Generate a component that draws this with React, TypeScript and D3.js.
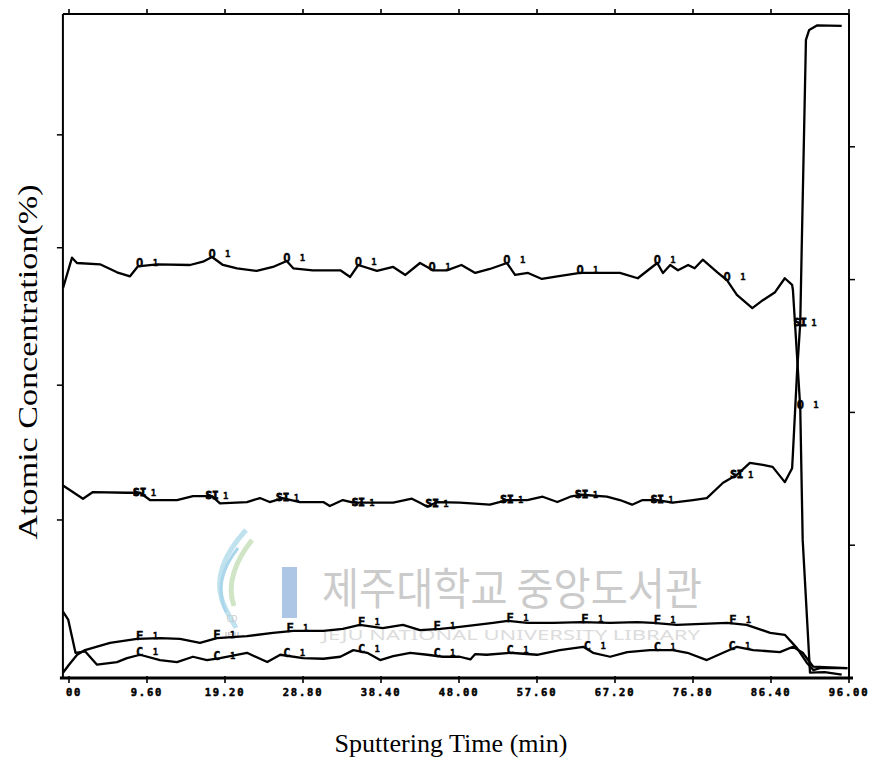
import React from "react";
import * as d3 from "d3";

// ---------- data ----------
type Pt = { t: number; v: number };

const xTickValues = [0, 9.6, 19.2, 28.8, 38.4, 48, 57.6, 67.2, 76.8, 86.4, 96];
const xTickLabels = ["00", "9.60", "19.20", "28.80", "38.40", "48.00", "57.60", "67.20", "76.80", "86.40", "96.00"];
const rightTickValues = [20, 40, 60, 80];
const leftTickValues = [23.8, 44.1, 64.8, 81.8];

const oxygenData: Pt[] = [
  { t: -0.74, v: 58.7 }, { t: 0.37, v: 63.3 }, { t: 0.98, v: 62.5 }, { t: 3.82, v: 62.3 },
  { t: 5.91, v: 61.1 }, { t: 7.51, v: 60.5 }, { t: 8.49, v: 62.0 }, { t: 10.83, v: 62.3 },
  { t: 14.89, v: 62.2 }, { t: 16.49, v: 62.7 }, { t: 17.6, v: 63.4 }, { t: 18.95, v: 62.2 },
  { t: 20.68, v: 61.7 }, { t: 23.1, v: 61.3 }, { t: 25.1, v: 61.9 }, { t: 26.8, v: 62.8 },
  { t: 27.6, v: 61.7 }, { t: 30.0, v: 61.4 }, { t: 33.4, v: 61.4 }, { t: 34.6, v: 60.4 },
  { t: 35.6, v: 62.2 }, { t: 37.9, v: 61.3 }, { t: 39.9, v: 61.9 }, { t: 41.4, v: 60.7 },
  { t: 43.2, v: 62.5 }, { t: 44.8, v: 61.4 }, { t: 46.5, v: 61.4 }, { t: 48.3, v: 62.2 },
  { t: 50.0, v: 61.0 }, { t: 51.8, v: 61.6 }, { t: 53.9, v: 62.5 }, { t: 54.9, v: 60.7 },
  { t: 56.5, v: 61.0 }, { t: 58.2, v: 60.1 }, { t: 60.1, v: 60.5 }, { t: 62.9, v: 61.0 },
  { t: 65.4, v: 61.0 }, { t: 67.8, v: 61.0 }, { t: 70.0, v: 60.2 }, { t: 72.4, v: 62.5 },
  { t: 73.1, v: 61.0 }, { t: 74.0, v: 62.2 }, { t: 74.95, v: 61.4 }, { t: 76.2, v: 62.2 },
  { t: 77.0, v: 61.7 }, { t: 78.0, v: 63.0 }, { t: 79.8, v: 61.1 }, { t: 81.0, v: 59.9 },
  { t: 82.2, v: 57.7 }, { t: 84.1, v: 55.7 }, { t: 85.4, v: 56.9 }, { t: 86.9, v: 58.1 },
  { t: 88.1, v: 60.2 }, { t: 89.0, v: 59.2 }, { t: 89.1, v: 58.4 }, { t: 90.0, v: 40.7 },
  { t: 90.3, v: 20.8 }, { t: 91.2, v: 0.8 }, { t: 93.0, v: 0.9 }, { t: 95.1, v: 0.5 },
];

const siliconData: Pt[] = [
  { t: -0.74, v: 29.0 }, { t: 1.72, v: 27.0 }, { t: 2.95, v: 28.0 }, { t: 7.14, v: 27.9 },
  { t: 8.74, v: 27.9 }, { t: 9.97, v: 26.8 }, { t: 13.29, v: 26.8 }, { t: 15.26, v: 27.4 },
  { t: 17.6, v: 27.4 }, { t: 18.58, v: 26.3 }, { t: 21.9, v: 26.5 }, { t: 23.5, v: 27.1 },
  { t: 24.7, v: 26.5 }, { t: 26.3, v: 27.1 }, { t: 28.4, v: 26.5 }, { t: 31.3, v: 26.5 },
  { t: 32.1, v: 25.9 }, { t: 33.7, v: 26.8 }, { t: 35.0, v: 26.4 }, { t: 39.9, v: 26.4 },
  { t: 42.2, v: 27.0 }, { t: 43.2, v: 26.4 }, { t: 44.1, v: 25.8 }, { t: 45.3, v: 26.5 },
  { t: 48.1, v: 26.4 }, { t: 51.8, v: 26.1 }, { t: 53.9, v: 26.8 }, { t: 56.4, v: 26.8 },
  { t: 58.3, v: 27.3 }, { t: 60.1, v: 26.5 }, { t: 61.7, v: 27.3 }, { t: 63.1, v: 27.6 },
  { t: 66.2, v: 27.3 }, { t: 67.8, v: 26.8 }, { t: 69.3, v: 26.1 }, { t: 70.6, v: 26.8 },
  { t: 72.4, v: 26.8 }, { t: 74.3, v: 26.4 }, { t: 76.8, v: 26.8 }, { t: 78.5, v: 27.1 },
  { t: 80.5, v: 29.4 }, { t: 82.2, v: 30.6 }, { t: 83.8, v: 32.4 }, { t: 85.4, v: 32.1 },
  { t: 86.6, v: 31.8 }, { t: 88.1, v: 29.5 }, { t: 89.0, v: 31.6 }, { t: 89.1, v: 33.9 },
  { t: 89.6, v: 45.9 }, { t: 90.0, v: 53.5 }, { t: 90.2, v: 66.0 }, { t: 90.7, v: 96.1 },
  { t: 91.1, v: 97.6 }, { t: 92.1, v: 98.3 }, { t: 95.1, v: 98.2 },
];

const fluorineData: Pt[] = [
  { t: -0.74, v: 0.8 }, { t: 0.0, v: 2.0 }, { t: 1.0, v: 3.5 }, { t: 1.97, v: 4.2 },
  { t: 5.05, v: 5.3 }, { t: 8.37, v: 5.9 }, { t: 11.2, v: 6.0 }, { t: 13.66, v: 5.9 },
  { t: 16.12, v: 5.3 }, { t: 18.2, v: 6.0 }, { t: 21.9, v: 6.3 }, { t: 25.1, v: 6.8 },
  { t: 27.6, v: 7.1 }, { t: 31.3, v: 7.1 }, { t: 33.7, v: 7.4 }, { t: 35.8, v: 8.0 },
  { t: 38.6, v: 7.5 }, { t: 41.1, v: 8.0 }, { t: 43.2, v: 7.2 }, { t: 45.7, v: 7.4 },
  { t: 48.1, v: 7.7 }, { t: 52.2, v: 8.3 }, { t: 54.0, v: 8.6 }, { t: 56.4, v: 8.3 },
  { t: 59.6, v: 8.3 }, { t: 63.1, v: 8.4 }, { t: 66.6, v: 8.3 }, { t: 69.9, v: 8.4 },
  { t: 71.9, v: 8.3 }, { t: 74.8, v: 8.0 }, { t: 81.0, v: 8.3 }, { t: 83.4, v: 8.0 },
  { t: 86.3, v: 6.8 }, { t: 88.1, v: 6.5 }, { t: 89.6, v: 4.5 }, { t: 90.8, v: 2.3 },
  { t: 91.6, v: 1.2 }, { t: 92.4, v: 1.5 }, { t: 95.8, v: 1.5 },
];

const carbonData: Pt[] = [
  { t: -0.74, v: 10.0 }, { t: -0.1, v: 8.8 }, { t: 0.8, v: 3.8 }, { t: 2.0, v: 4.0 },
  { t: 3.45, v: 2.0 }, { t: 5.91, v: 2.4 }, { t: 7.14, v: 3.0 }, { t: 8.74, v: 3.5 },
  { t: 11.2, v: 2.7 }, { t: 13.29, v: 2.4 }, { t: 15.26, v: 3.2 }, { t: 16.98, v: 2.7 },
  { t: 18.58, v: 3.0 }, { t: 21.9, v: 3.8 }, { t: 24.4, v: 2.4 }, { t: 26.0, v: 3.5 },
  { t: 28.8, v: 3.0 }, { t: 31.3, v: 2.9 }, { t: 33.4, v: 3.2 }, { t: 35.0, v: 4.2 },
  { t: 36.7, v: 3.8 }, { t: 38.3, v: 2.7 }, { t: 39.9, v: 3.3 }, { t: 42.0, v: 3.8 },
  { t: 44.1, v: 3.5 }, { t: 46.0, v: 3.2 }, { t: 48.1, v: 3.2 }, { t: 49.4, v: 2.8 },
  { t: 50.0, v: 3.6 }, { t: 51.4, v: 3.5 }, { t: 54.3, v: 3.8 }, { t: 57.6, v: 3.5 },
  { t: 60.4, v: 4.2 }, { t: 63.3, v: 4.7 }, { t: 64.5, v: 3.8 }, { t: 66.6, v: 3.2 },
  { t: 68.7, v: 3.9 }, { t: 71.5, v: 4.2 }, { t: 74.3, v: 4.2 }, { t: 76.1, v: 3.8 },
  { t: 78.5, v: 2.7 }, { t: 80.5, v: 3.8 }, { t: 82.2, v: 4.7 }, { t: 84.2, v: 4.2 },
  { t: 87.5, v: 3.9 }, { t: 89.1, v: 4.7 }, { t: 90.3, v: 3.8 }, { t: 91.6, v: 1.7 },
  { t: 95.8, v: 1.5 },
];

const oxygenLabelTimes = [8.7, 17.6, 26.8, 35.6, 44.7, 53.9, 62.9, 72.4, 81.0, 90.0];
const siliconLabelTimes = [8.7, 17.6, 26.3, 35.6, 44.7, 53.9, 63.1, 72.4, 82.2, 90.0];
const fluorineLabelTimes = [8.7, 18.2, 27.2, 36.0, 45.3, 54.3, 63.5, 72.4, 81.7];
const carbonLabelTimes = [8.7, 18.2, 26.8, 36.0, 45.3, 54.3, 63.8, 72.4, 81.6];

const xTitle = "Sputtering Time (min)";
const yTitle = "Atomic Concentration(%)";
const watermarkKo = "제주대학교 중앙도서관";
const watermarkEn = "JEJU NATIONAL UNIVERSITY LIBRARY";

// ---------- layout ----------
const W = 884;
const H = 762;
const xMin = -0.75;
const x = d3.scaleLinear().domain([0, 96]).range([69, 849]);
const y = d3.scaleLinear().domain([0, 100]).range([678, 14]);

function interp(data: Pt[], t: number): number {
  for (let i = 0; i < data.length - 1; i++) {
    const a = data[i], b = data[i + 1];
    if (t >= a.t && t <= b.t) {
      const f = b.t === a.t ? 0 : (t - a.t) / (b.t - a.t);
      return a.v + f * (b.v - a.v);
    }
  }
  return data[data.length - 1].v;
}

const line = d3.line<Pt>().x((d) => x(d.t)).y((d) => y(d.v)).curve(d3.curveLinear);

const series = [
  { key: "O", data: oxygenData, times: oxygenLabelTimes, sym: "O" },
  { key: "Si", data: siliconData, times: siliconLabelTimes, sym: "SI" },
  { key: "F", data: fluorineData, times: fluorineLabelTimes, sym: "F" },
  { key: "C", data: carbonData, times: carbonLabelTimes, sym: "C" },
];

export default function App() {
  const left = x(xMin);
  const right = x(96);
  const top = y(100);
  const bottom = y(0);
  const mono = "'DejaVu Sans Mono', monospace";
  return (
    <svg
      width={W}
      height={H}
      viewBox={`0 0 ${W} ${H}`}
      style={{ position: "absolute", left: 0, top: 0, background: "#fff" }}
    >
      <rect x={0} y={0} width={W} height={H} fill="#fff" />

      {/* watermark */}
      <g>
        <path d="M246,530 C226,552 214,575 222,600 C226,612 232,620 236,628" fill="none" stroke="#bfe2ee" strokeWidth={5} />
        <path d="M252,540 C236,560 226,584 234,606" fill="none" stroke="#cfe5c6" strokeWidth={5} />
        <path d="M238,548 C222,568 216,590 226,612" fill="none" stroke="#a9d6ea" strokeWidth={3} />
        <rect x={282} y={567} width={15} height={51} fill="#aec6e6" />
        <text x={232} y={622} fontSize={8} fill="#c8c8c8" textAnchor="middle" fontFamily="Noto Sans">CD</text>
        <text x={232} y={637} fontSize={7} fill="#c8c8c8" textAnchor="middle" fontFamily="Noto Sans" fontWeight="bold">JEJU</text>
        <text
          x={322}
          y={605}
          fontSize={44}
          fill="#cbcbcb"
          fontFamily="'Noto Sans CJK KR'"
          textLength={380}
          lengthAdjust="spacingAndGlyphs"
        >
          {watermarkKo}
        </text>
        <text
          x={322}
          y={640}
          fontSize={15}
          fill="#dcdcdc"
          fontFamily="'Noto Sans'"
          textLength={378}
          lengthAdjust="spacingAndGlyphs"
        >
          {watermarkEn}
        </text>
      </g>

      {/* frame */}
      <line x1={left} y1={top} x2={left} y2={bottom} stroke="#000" strokeWidth={2} />
      <line x1={left} y1={top} x2={right} y2={top} stroke="#000" strokeWidth={2} />
      <line x1={right} y1={top} x2={right} y2={bottom} stroke="#000" strokeWidth={2} />
      <line x1={left - 3} y1={bottom} x2={right + 4} y2={bottom} stroke="#000" strokeWidth={3} />

      {/* x ticks */}
      {xTickValues.map((v, i) => (
        <g key={"xt" + i}>
          <line x1={x(v)} x2={x(v)} y1={bottom - 2} y2={bottom + 5} stroke="#000" strokeWidth={1.6} />
          <line x1={x(v)} x2={x(v)} y1={top} y2={top - 5} stroke="#000" strokeWidth={1.6} />
          <text
            x={x(v) + (i === 0 ? 5 : 0)}
            y={bottom + 18}
            textAnchor="middle"
            fontSize={10.5}
            fontWeight="bold"
            fontFamily={mono}
            letterSpacing={1.8}
            stroke="#000"
            strokeWidth={0.5}
          >
            {xTickLabels[i]}
          </text>
        </g>
      ))}

      {/* y ticks */}
      {leftTickValues.map((v) => (
        <line key={"yl" + v} x1={left - 6} x2={left} y1={y(v)} y2={y(v)} stroke="#000" strokeWidth={1.5} />
      ))}
      {rightTickValues.map((v) => (
        <line key={"yr" + v} x1={right} x2={right + 6} y1={y(v)} y2={y(v)} stroke="#000" strokeWidth={1.5} />
      ))}

      {/* series lines */}
      {series.map((s) => (
        <path key={s.key} d={line(s.data) || ""} fill="none" stroke="#000" strokeWidth={2.3} strokeLinejoin="round" />
      ))}

      {/* in-line labels */}
      {series.map((s) =>
        s.times.map((t, i) => {
          const px = x(t);
          const py = y(interp(s.data, t));
          const isSi = s.sym === "SI";
          return (
            <g key={s.key + i} fontFamily={mono} fontWeight="bold">
              <text
                x={px}
                y={py + (isSi ? 3 : 1)}
                fontSize={isSi ? 11 : 12}
                textAnchor="middle"
                stroke="#000"
                strokeWidth={isSi ? 0.9 : 0.4}
              >
                {s.sym}
              </text>
              <text x={px + (isSi ? 11 : 13)} y={py + (isSi ? 3 : 0)} fontSize={9} stroke="#000" strokeWidth={0.3}>
                1
              </text>
            </g>
          );
        })
      )}

      {/* axis titles */}
      <text
        x={451}
        y={752}
        textAnchor="middle"
        fontSize={25}
        fontFamily="'Liberation Serif', 'Times New Roman', serif"
        textLength={233}
        lengthAdjust="spacingAndGlyphs"
      >
        {xTitle}
      </text>
      <text
        transform={`translate(37,362) rotate(-90)`}
        textAnchor="middle"
        fontSize={27}
        fontFamily="'Liberation Serif', 'Times New Roman', serif"
        textLength={355}
        lengthAdjust="spacingAndGlyphs"
      >
        {yTitle}
      </text>
    </svg>
  );
}
